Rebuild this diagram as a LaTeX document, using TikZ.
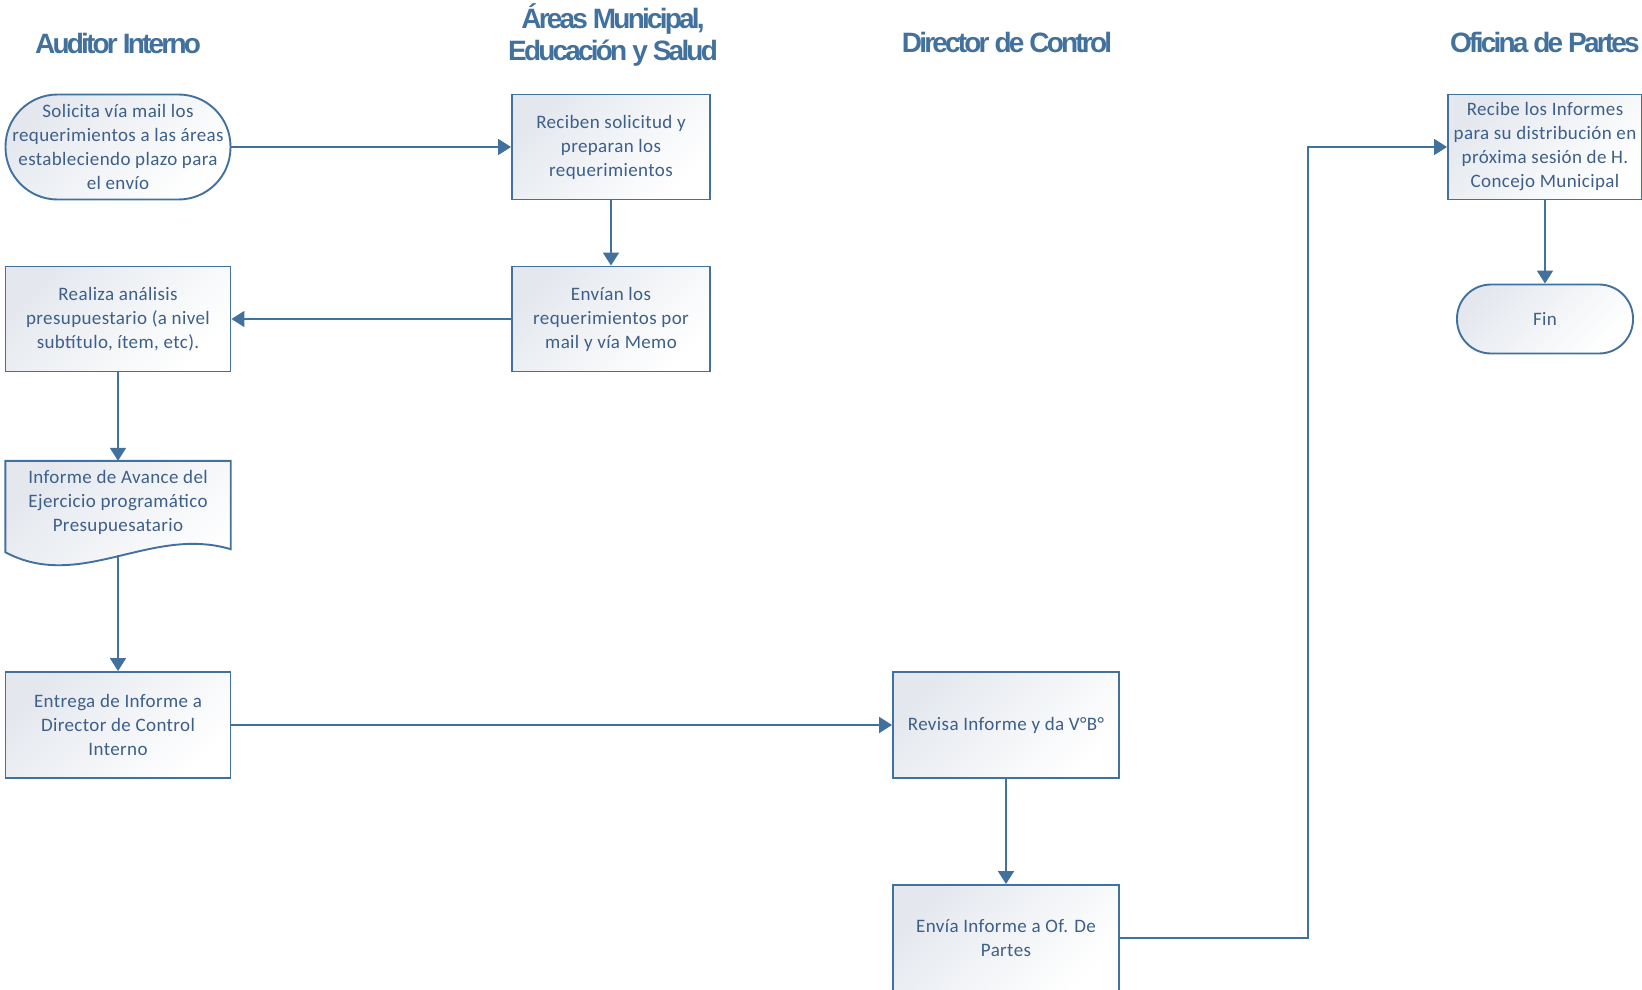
\documentclass[tikz,border=0pt]{standalone}
\usepackage{fontspec}
\setmainfont{Carlito}[LetterSpace=2]
\newfontfamily\headfont{Liberation Sans}[LetterSpace=-10]
\usetikzlibrary{arrows.meta,backgrounds,calc}

\definecolor{lineblue}{HTML}{41719C}
\definecolor{textblue}{HTML}{3D5F8A}
\definecolor{shadegrey}{HTML}{E4E8EE}

\tikzset{
  boxtext/.style={rectangle, text=textblue, align=center, inner sep=0pt,
    font=\fontsize{19}{24}\selectfont},
  boxfill/.style={draw=lineblue, line width=1.9pt, top color=shadegrey, bottom color=white,
    shading angle=45},
  box/.style={boxtext, boxfill},
  term/.style={box, rounded corners=#1},
  header/.style={text=lineblue, align=center, font=\headfont\bfseries\fontsize{28}{32}\selectfont},
  flow/.style={draw=lineblue, line width=1.9pt, -{Triangle[length=13pt,width=16pt]}},
}

\begin{document}
\begin{tikzpicture}[x=1pt,y=-1pt]
  \useasboundingbox (0,0) rectangle (1642,990);

  % Lane titles
  \node[header] (hauditor) at (118,43) {Auditor Interno};
  \node[header] (hareas) at (613,35) {Áreas Municipal,\\Educación y Salud};
  \node[header] (hdirector) at (1007,42) {Director de Control};
  \node[header] (hoficina) at (1545,42) {Oficina de Partes};

  % Steps
  \node[term=52pt, minimum width=225pt, minimum height=105pt] (solicita) at (118,147)
    {Solicita vía mail los\\requerimientos a las áreas\\estableciendo plazo para\\el envío};
  \node[box, minimum width=198pt, minimum height=105pt] (reciben) at (611,147)
    {Reciben solicitud y\\preparan los\\requerimientos};
  \node[box, minimum width=198pt, minimum height=105pt] (envian) at (611,319)
    {Envían los\\requerimientos por\\mail y vía Memo};
  \node[box, minimum width=225pt, minimum height=105pt] (realiza) at (118,319)
    {Realiza análisis\\presupuestario (a nivel\\subtítulo, ítem, etc).};
  \node[boxtext, minimum width=225pt, minimum height=78pt] (informe) at (118,502)
    {Informe de Avance del\\Ejercicio programático\\Presupuesatario};
  \node[box, minimum width=225pt, minimum height=106pt] (entrega) at (118,725)
    {Entrega de Informe a\\Director de Control\\Interno};
  \node[box, minimum width=226pt, minimum height=106pt] (revisa) at (1006,725)
    {Revisa Informe y da V°B°};
  \node[box, minimum width=226pt, minimum height=106pt] (enviao) at (1006,938)
    {Envía Informe a Of. De\\Partes};
  \node[box, minimum width=194pt, minimum height=105pt] (recibe) at (1545,147)
    {Recibe los Informes\\para su distribución en\\próxima sesión de H.\\Concejo Municipal};
  \node[term=34pt, minimum width=176pt, minimum height=69pt] (fin) at (1545,319) {Fin};

  % Document outline behind its text
  \begin{scope}[on background layer]
    \path[boxfill] ($(informe.north west)+(0,-2)$) -- ($(informe.north east)+(0,-2)$) -- ($(informe.south east)+(0,8)$)
      .. controls +(-80,-24) and +(75,40) .. ($(informe.south west)+(0,11)$) -- cycle;
  \end{scope}
  \coordinate (informebot) at (118,555);

  % Connectors
  \draw[flow] (solicita.east) -- (reciben.west);
  \draw[flow] (reciben.south) -- (envian.north);
  \draw[flow] (envian.west) -- (realiza.east);
  \draw[flow] (realiza.south) -- ($(informe.north)+(0,-2)$);
  \draw[flow] (informebot) -- (entrega.north);
  \draw[flow] (entrega.east) -- (revisa.west);
  \draw[flow] (revisa.south) -- (enviao.north);
  \draw[flow] (enviao.east) -- ++(188,0) |- (recibe.west);
  \draw[flow] (recibe.south) -- (fin.north);
\end{tikzpicture}
\end{document}
